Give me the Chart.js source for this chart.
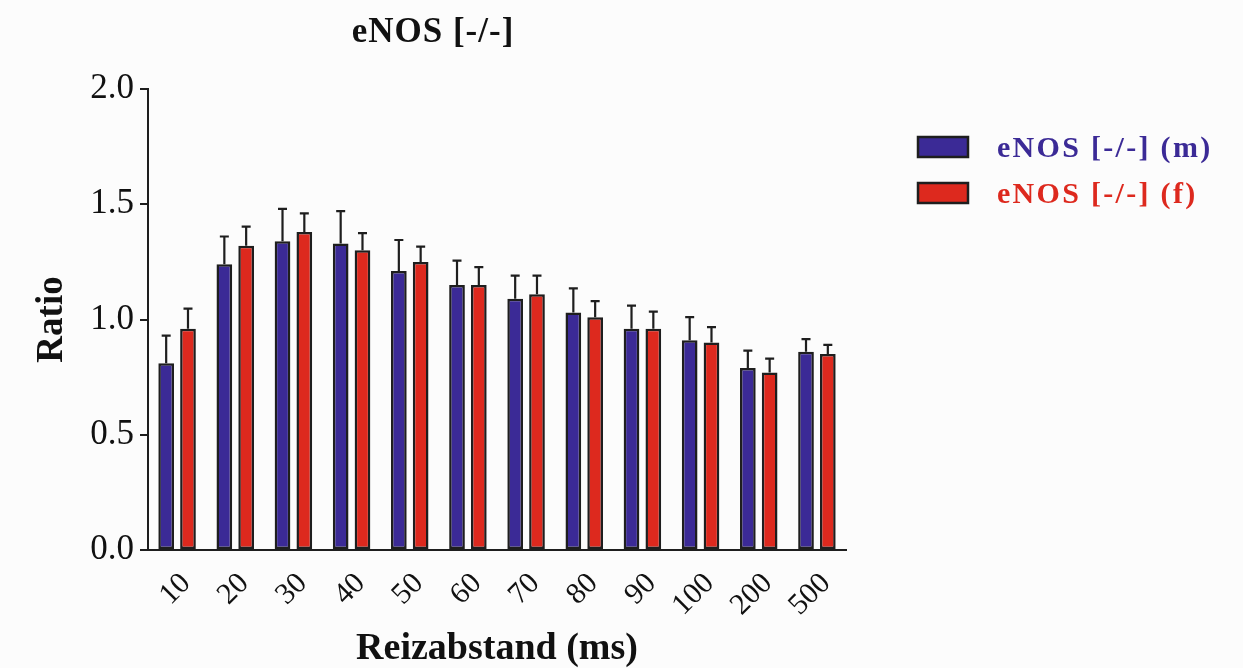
<!DOCTYPE html>
<html>
<head>
<meta charset="utf-8">
<script src="https://cdn.jsdelivr.net/npm/chart.js@4"></script>
<style>
  html, body { margin: 0; padding: 0; background: #fcfcfc; }
  #wrap { width: 1243px; height: 668px; position: relative; }
</style>
</head>
<body>
<div id="wrap"><canvas id="chart" width="1243" height="668"></canvas></div>
<script>
const SERIF = "'Liberation Serif', 'Times New Roman', serif";

const categories = ["10", "20", "30", "40", "50", "60", "70", "80", "90", "100", "200", "500"];
const maleMean = [0.81, 1.24, 1.34, 1.33, 1.21, 1.15, 1.09, 1.03, 0.96, 0.91, 0.79, 0.86];
const maleErr = [0.12, 0.12, 0.14, 0.14, 0.135, 0.105, 0.10, 0.105, 0.10, 0.10, 0.075, 0.055];
const femaleMean = [0.96, 1.32, 1.38, 1.30, 1.25, 1.15, 1.11, 1.01, 0.96, 0.90, 0.77, 0.85];
const femaleErr = [0.087, 0.083, 0.08, 0.075, 0.066, 0.077, 0.08, 0.07, 0.074, 0.067, 0.06, 0.04];
const yTicks = [0, 0.5, 1.0, 1.5, 2.0];

const BLUE = "rgb(59, 42, 150)";
const RED = "rgb(221, 41, 30)";
const INK = "#1e1e1e";

// upward error bars with caps
const errorBars = {
  id: "errorBars",
  afterDatasetsDraw(chart) {
    const ctx = chart.ctx;
    const yScale = chart.scales.y;
    ctx.save();
    ctx.strokeStyle = INK;
    ctx.lineWidth = 2.2;
    chart.data.datasets.forEach((ds, i) => {
      const meta = chart.getDatasetMeta(i);
      meta.data.forEach((bar, j) => {
        const top = yScale.getPixelForValue(ds.data[j] + ds.errors[j]);
        ctx.beginPath();
        ctx.moveTo(bar.x, bar.y);
        ctx.lineTo(bar.x, top);
        ctx.moveTo(bar.x - 4.5, top);
        ctx.lineTo(bar.x + 4.5, top);
        ctx.stroke();
      });
    });
    ctx.restore();
  },
};

// title and legend drawn where the original has them
const decorations = {
  id: "decorations",
  afterDraw(chart) {
    const ctx = chart.ctx;
    ctx.save();
    ctx.fillStyle = "#111";
    ctx.font = "bold 35px " + SERIF;
    ctx.textAlign = "center";
    ctx.textBaseline = "middle";
    ctx.letterSpacing = "1px";
    ctx.fillText("eNOS [-/-]", 433, 33);

    ctx.textAlign = "left";
    ctx.font = "bold 30px " + SERIF;
    ctx.letterSpacing = "2.3px";
    chart.data.datasets.forEach((ds, i) => {
      const cy = 147 + i * 46;
      ctx.fillStyle = ds.backgroundColor;
      ctx.strokeStyle = INK;
      ctx.lineWidth = 2.5;
      ctx.fillRect(918, cy - 10, 50, 20);
      ctx.strokeRect(918, cy - 10, 50, 20);
      ctx.fillStyle = ds.backgroundColor;
      ctx.fillText(ds.label, 997, cy + 2);
    });
    ctx.restore();
  },
};

new Chart(document.getElementById("chart"), {
  type: "bar",
  data: {
    labels: categories,
    datasets: [
      {
        label: "eNOS [-/-] (m)",
        data: maleMean,
        errors: maleErr,
        backgroundColor: BLUE,
        borderColor: INK,
        borderWidth: 2.5,
        borderSkipped: false,
      },
      {
        label: "eNOS [-/-] (f)",
        data: femaleMean,
        errors: femaleErr,
        backgroundColor: RED,
        borderColor: INK,
        borderWidth: 2.5,
        borderSkipped: false,
      },
    ],
  },
  options: {
    responsive: false,
    animation: false,
    categoryPercentage: 0.75,
    barPercentage: 0.72,
    layout: { padding: { left: 30, right: 397, top: 89, bottom: 0 } },
    plugins: {
      legend: { display: false },
      title: { display: false },
      tooltip: { enabled: false },
    },
    scales: {
      x: {
        grid: { display: false, drawTicks: false },
        border: { display: true, color: INK, width: 2 },
        ticks: {
          color: "#111",
          font: { family: SERIF, size: 30 },
          minRotation: 45,
          maxRotation: 45,
          padding: 16,
          labelOffset: 9,
        },
        title: {
          display: true,
          text: "Reizabstand (ms)",
          color: "#111",
          font: { family: SERIF, size: 38, weight: "bold", lineHeight: 1 },
          padding: { top: 0, bottom: 0 },
        },
        afterFit(scale) { scale.height = 118; },
      },
      y: {
        min: 0,
        max: 2,
        afterBuildTicks(scale) { scale.ticks = yTicks.map((v) => ({ value: v })); },
        grid: { display: true, drawOnChartArea: false, drawTicks: true, tickLength: 8, color: INK, lineWidth: 2 },
        border: { display: true, color: INK, width: 2 },
        ticks: {
          color: "#111",
          font: { family: SERIF, size: 35 },
          padding: 6,
          callback: (v) => Number(v).toFixed(1),
        },
        title: {
          display: true,
          text: "Ratio",
          color: "#111",
          font: { family: SERIF, size: 37, weight: "bold", lineHeight: 1 },
          padding: { top: 4, bottom: 0 },
        },
        afterFit(scale) { scale.width = 118; },
      },
    },
  },
  plugins: [errorBars, decorations],
});
</script>
</body>
</html>
